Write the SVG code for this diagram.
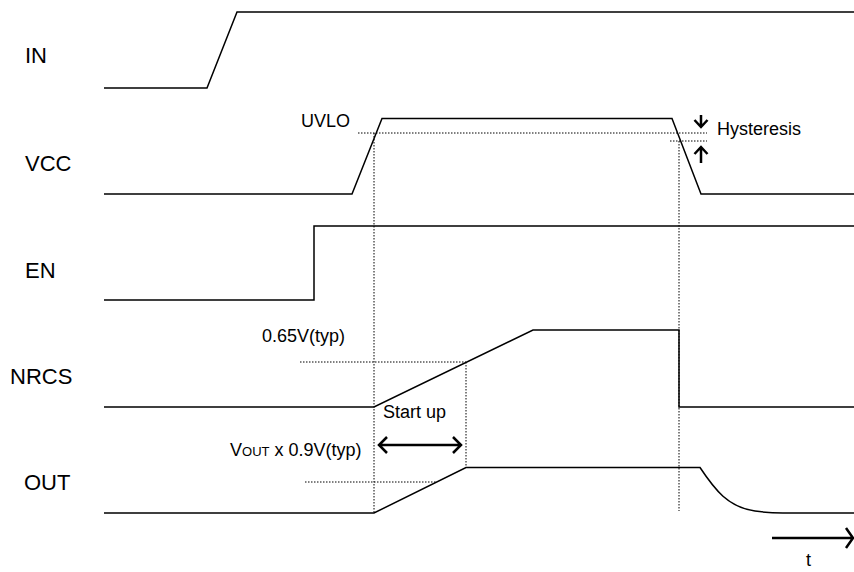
<svg xmlns="http://www.w3.org/2000/svg" width="854" height="572" viewBox="0 0 854 572">
<style>
.sig{fill:none;stroke:#000;stroke-width:1.5;stroke-linejoin:miter}
.dot{fill:none;stroke:#000;stroke-width:1;stroke-dasharray:1.5,1.5}
.arr{fill:none;stroke:#000;stroke-width:2.5}
.lbl{font-family:"Liberation Sans",Arial,sans-serif;font-size:22px;fill:#000}
.sm{font-family:"Liberation Sans",Arial,sans-serif;font-size:18px;fill:#000}
</style>
<rect width="854" height="572" fill="#fff"/>
<g id="IN">
<text class="lbl" x="25" y="63">IN</text>
<path class="sig" d="M104,88 H207 L237,12 H854"/>
</g>
<g id="VCC">
<text class="lbl" x="25" y="171">VCC</text>
<path class="sig" d="M104,194 H352 L382,118.5 H672 L701,194 H854"/>
<text class="sm" x="301" y="127">UVLO</text>
<text class="sm" x="717" y="135">Hysteresis</text>
</g>
<g id="EN">
<text class="lbl" x="25" y="278">EN</text>
<path class="sig" d="M104,300 H314 V226 H854"/>
</g>
<g id="NRCS">
<text class="lbl" x="10" y="384">NRCS</text>
<path class="sig" d="M104,407 H374 L533,330 H679 V407 H854"/>
<text class="sm" x="262" y="342">0.65V(typ)</text>
<text class="sm" x="383" y="418">Start up</text>
</g>
<g id="OUT">
<text class="lbl" x="24" y="490">OUT</text>
<path class="sig" d="M104,513 H374 L466,467.5 H700 C715,490 728,507 755,511 C765,512.5 775,513 783,513 H854"/>
<text class="sm" x="230" y="456">V<tspan font-size="13">OUT</tspan> x 0.9V(typ)</text>
</g>
<g id="time">
<path class="arr" d="M772,538 H853 M846,528 L853,538 L846,548"/>
<text class="sm" x="806" y="566" font-size="20">t</text>
</g>
<g id="connectors">
<path class="dot" d="M358,133 H707 M670,141 H707"/>
<path class="dot" d="M374,133 V513 M679,141 V511 M466,362 V467"/>
<path class="dot" d="M300,362 H466 M305,482 H436"/>
<path class="arr" d="M379,445 H461 M387,437 L379,445 L387,453 M453,437 L461,445 L453,453"/>
<path class="arr" d="M701,115 V127 M694.5,120 L701,127 L707.5,120"/>
<path class="arr" d="M701,163 V147 M694.5,154 L701,147 L707.5,154"/>
</g>
</svg>
